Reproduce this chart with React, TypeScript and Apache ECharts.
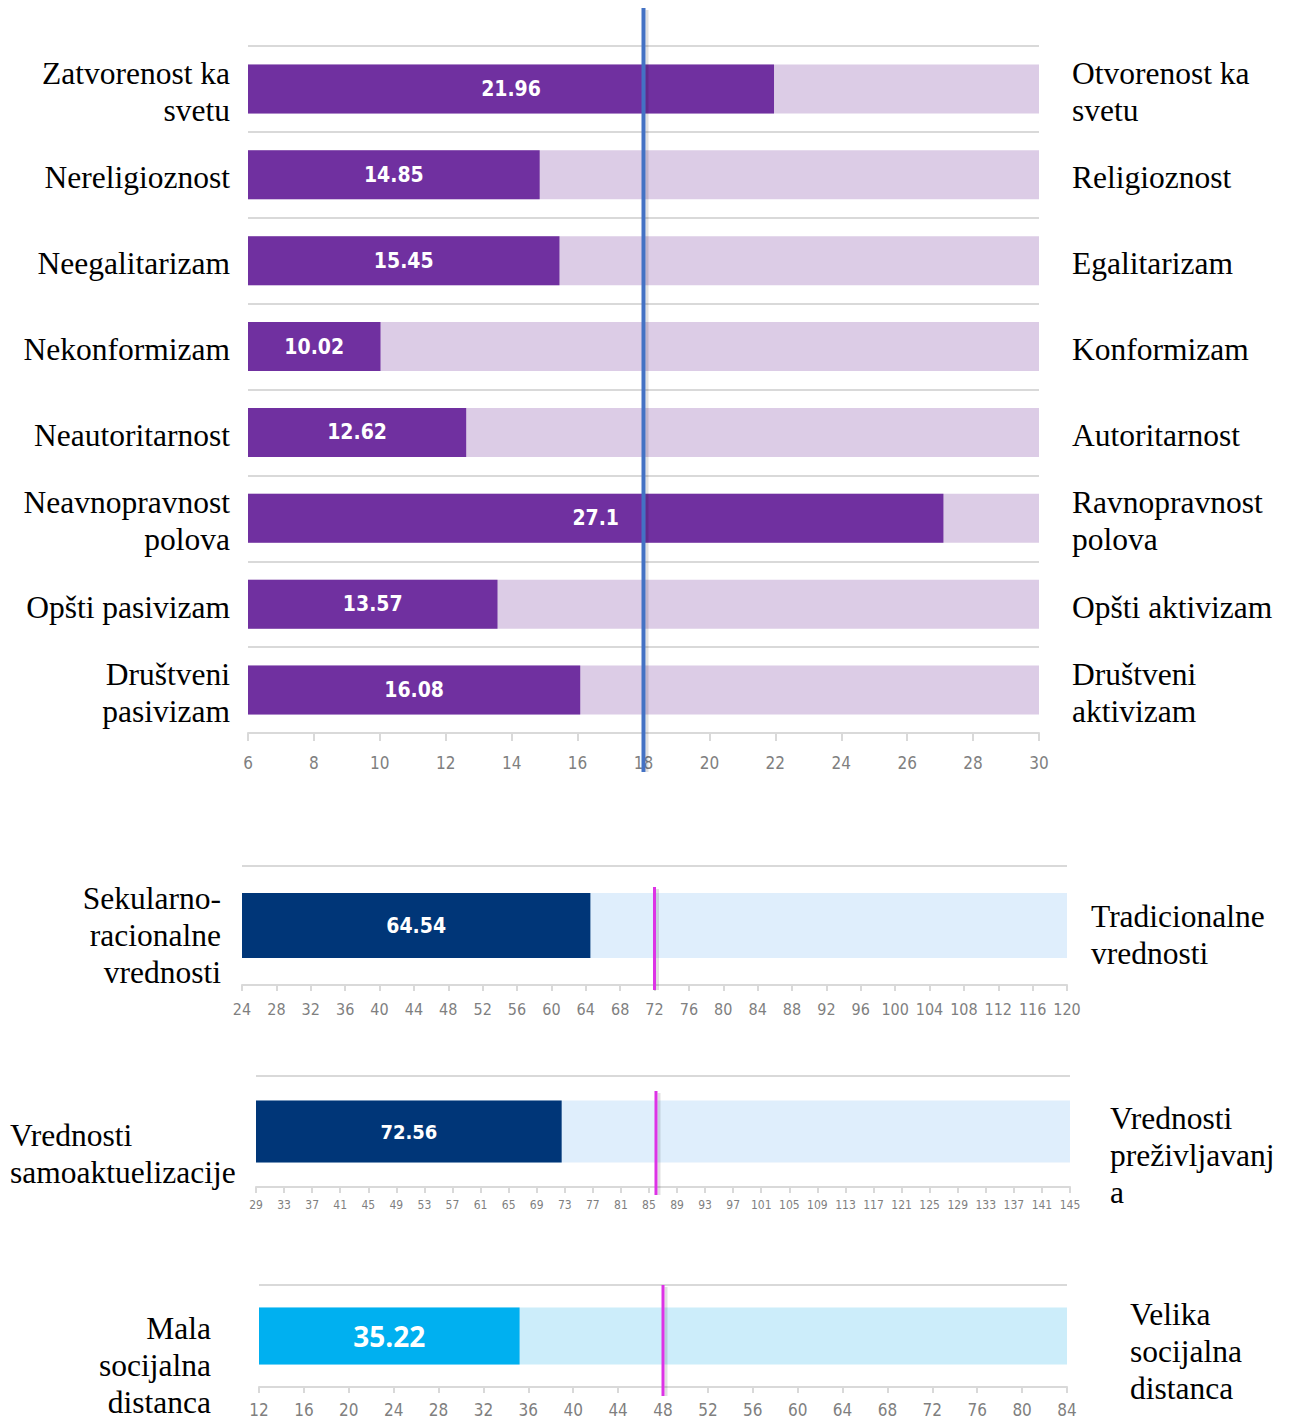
import React, { useEffect, useRef } from 'react';
import * as echarts from 'echarts';

// ---------- DATA ----------
const topLeftLabels = [
  'Zatvorenost ka\nsvetu',
  'Nereligioznost',
  'Neegalitarizam',
  'Nekonformizam',
  'Neautoritarnost',
  'Neavnopravnost\npolova',
  'Opšti pasivizam',
  'Društveni\npasivizam',
];
const topRightLabels = [
  'Otvorenost ka\nsvetu',
  'Religioznost',
  'Egalitarizam',
  'Konformizam',
  'Autoritarnost',
  'Ravnopravnost\npolova',
  'Opšti aktivizam',
  'Društveni\naktivizam',
];
const topValues = [21.96, 14.85, 15.45, 10.02, 12.62, 27.1, 13.57, 16.08];
const topAxis = { min: 6, max: 30, interval: 2 };
const topMarker = 18;

const secLeft = ['Sekularno-\nracionalne\nvrednosti'];
const secRight = ['Tradicionalne\nvrednosti'];
const secValues = [64.54];
const secAxis = { min: 24, max: 120, interval: 4 };
const secMarker = 72;

const samLeft = ['Vrednosti\nsamoaktuelizacije'];
const samRight = ['Vrednosti\npreživljavanj\na'];
const samValues = [72.56];
const samAxis = { min: 29, max: 145, interval: 4 };
const samMarker = 86;

const socLeft = ['Mala\nsocijalna\ndistanca'];
const socRight = ['Velika\nsocijalna\ndistanca'];
const socValues = [35.22];
const socAxis = { min: 12, max: 84, interval: 4 };
const socMarker = 48;

// ---------- STYLE ----------
const SERIF = "'Liberation Serif', 'Times New Roman', serif";
const NARROW = "'Liberation Sans Narrow', 'DejaVu Sans Condensed', 'Roboto', sans-serif";
const GRID_GRAY = '#d9d9d9';
const TICK_GRAY = '#7f7f7f';

type Side = { dx: number; dy: number; align: 'left' | 'right' };
type Panel = {
  grid: { left: number; top: number; width: number; height: number };
  left: string[];
  right: string[];
  values: number[];
  axis: { min: number; max: number; interval: number };
  barColor: string;
  bgColor: string;
  barWidth: number;
  valueFont: any;
  tickFont: number;
  tickMargin: number;
  tickLen: number;
  leftSide: Side; // dx measured from grid left edge
  rightSide: Side; // dx measured from grid right edge
};

const panels: Panel[] = [
  {
    grid: { left: 248, top: 46, width: 791, height: 687 },
    left: topLeftLabels,
    right: topRightLabels,
    values: topValues,
    axis: topAxis,
    barColor: '#7030a0',
    bgColor: '#dccce6',
    barWidth: 49,
    valueFont: { fontFamily: NARROW, fontWeight: 'bold', fontSize: 21 },
    tickFont: 17,
    tickMargin: 21,
    tickLen: 8,
    leftSide: { dx: -18, dy: 3, align: 'right' },
    rightSide: { dx: 33, dy: 3, align: 'left' },
  },
  {
    grid: { left: 242, top: 866, width: 825, height: 119 },
    left: secLeft,
    right: secRight,
    values: secValues,
    axis: secAxis,
    barColor: '#003678',
    bgColor: '#dfeefc',
    barWidth: 65,
    valueFont: { fontFamily: NARROW, fontWeight: 'bold', fontSize: 21 },
    tickFont: 16,
    tickMargin: 16,
    tickLen: 6,
    leftSide: { dx: -21, dy: 9.5, align: 'right' },
    rightSide: { dx: 24, dy: 9.5, align: 'left' },
  },
  {
    grid: { left: 256, top: 1076, width: 814, height: 111 },
    left: samLeft,
    right: samRight,
    values: samValues,
    axis: samAxis,
    barColor: '#003678',
    bgColor: '#dfeefc',
    barWidth: 62,
    valueFont: { fontFamily: NARROW, fontWeight: 'bold', fontSize: 20 },
    tickFont: 12,
    tickMargin: 12,
    tickLen: 6,
    leftSide: { dx: -246, dy: 22.5, align: 'left' },
    rightSide: { dx: 40, dy: 23.5, align: 'left' },
  },
  {
    grid: { left: 259, top: 1285, width: 808, height: 102 },
    left: socLeft,
    right: socRight,
    values: socValues,
    axis: socAxis,
    barColor: '#00b0f0',
    bgColor: '#ccedfa',
    barWidth: 57,
    valueFont: { fontFamily: "'Open Sans', 'Lato', sans-serif", fontWeight: 'bold', fontSize: 28 },
    tickFont: 17,
    tickMargin: 14,
    tickLen: 6,
    leftSide: { dx: -48, dy: 29, align: 'right' },
    rightSide: { dx: 63, dy: 15, align: 'left' },
  },
];

const markers = [
  { axisIndex: 0, value: topMarker, y1: 8, y2: 772, color: '#4472c4', width: 4 },
  { axisIndex: 1, value: secMarker, y1: 887, y2: 990, color: '#dd33e6', width: 3 },
  { axisIndex: 2, value: samMarker, y1: 1091, y2: 1195, color: '#dd33e6', width: 3 },
  { axisIndex: 3, value: socMarker, y1: 1285, y2: 1396, color: '#dd33e6', width: 3 },
];

function buildOption() {
  const grid: any[] = [];
  const xAxis: any[] = [];
  const yAxis: any[] = [];
  const series: any[] = [];
  panels.forEach((p, i) => {
    grid.push({ ...p.grid, containLabel: false });
    xAxis.push({
      type: 'value',
      gridIndex: i,
      min: p.axis.min,
      max: p.axis.max,
      interval: p.axis.interval,
      axisLine: { show: true, lineStyle: { color: GRID_GRAY, width: 2 } },
      axisTick: { show: true, length: p.tickLen, lineStyle: { color: GRID_GRAY, width: 2 } },
      splitLine: { show: false },
      axisLabel: {
        show: true,
        color: TICK_GRAY,
        fontFamily: NARROW,
        fontSize: p.tickFont,
        margin: p.tickMargin,
        showMinLabel: true,
        showMaxLabel: true,
      },
    });
    yAxis.push({
      type: 'category',
      gridIndex: i,
      position: 'left',
      inverse: true,
      data: p.left,
      axisLine: { show: false },
      axisTick: { show: false },
      axisLabel: { show: false },
      splitLine: { show: true, interval: 0, lineStyle: { color: GRID_GRAY, width: 2 } },
    });
    series.push({
      type: 'bar',
      xAxisIndex: i,
      yAxisIndex: i,
      data: p.values,
      barWidth: p.barWidth,
      showBackground: true,
      backgroundStyle: { color: p.bgColor },
      itemStyle: { color: p.barColor },
      clip: true,
      label: {
        show: true,
        position: 'inside',
        color: '#fff',
        ...p.valueFont,
        formatter: (d: any) => String(d.value),
      },
    });
  });
  return { animation: false, grid, xAxis, yAxis, series };
}

function sideText(text: string, x: number, y: number, align: string) {
  return {
    type: 'text',
    z: 50,
    style: {
      text,
      x,
      y,
      align,
      verticalAlign: 'middle',
      fontFamily: SERIF,
      fontSize: 31.5,
      lineHeight: 37,
      fill: '#000',
    },
  };
}

export default function App() {
  const ref = useRef<HTMLDivElement>(null);
  useEffect(() => {
    if (!ref.current) return;
    const chart = echarts.init(ref.current, null, { renderer: 'svg' });
    chart.setOption(buildOption() as any);

    const graphic: any[] = [];
    panels.forEach((p, i) => {
      const xl = p.grid.left + p.leftSide.dx;
      const xr = p.grid.left + p.grid.width + p.rightSide.dx;
      p.left.forEach((name, k) => {
        const yc = chart.convertToPixel({ yAxisIndex: i } as any, name) as number;
        graphic.push(sideText(name, xl, yc + p.leftSide.dy, p.leftSide.align));
        graphic.push(sideText(p.right[k], xr, yc + p.rightSide.dy, p.rightSide.align));
      });
    });

    markers.forEach((m) => {
      const x = chart.convertToPixel({ xAxisIndex: m.axisIndex } as any, m.value) as number;
      // soft shadow strip
      graphic.push({
        type: 'rect',
        z: 99,
        shape: { x: x + m.width / 2, y: m.y1 + 2, width: 3, height: m.y2 - m.y1 - 2 },
        style: { fill: 'rgba(0,0,0,0.12)' },
      });
      graphic.push({
        type: 'rect',
        z: 100,
        shape: { x: x - m.width / 2, y: m.y1, width: m.width, height: m.y2 - m.y1 },
        style: { fill: m.color },
      });
    });
    chart.setOption({ graphic } as any);
    return () => chart.dispose();
  }, []);
  return (
    <div
      ref={ref}
      style={{ position: 'absolute', left: 0, top: 0, width: 1290, height: 1420, background: '#fff' }}
    />
  );
}
